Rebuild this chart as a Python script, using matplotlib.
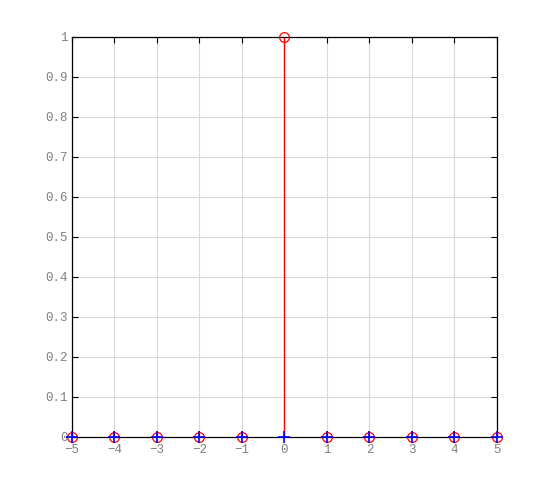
import numpy as np
import matplotlib.pyplot as plt

n = [-5, -4, -3, -2, -1, 0, 1, 2, 3, 4, 5]
x_red = [0, 0, 0, 0, 0, 1, 0, 0, 0, 0, 0]
x_blue = [0, 0, 0, 0, 0, 0, 0, 0, 0, 0, 0]
xlabels = ['\u22125', '\u22124', '\u22123', '\u22122', '\u22121', '0', '1', '2', '3', '4', '5']
ylabels = ['0', '0.1', '0.2', '0.3', '0.4', '0.5', '0.6', '0.7', '0.8', '0.9', '1']

plt.rcParams['font.family'] = ['Liberation Mono', 'DejaVu Sans Mono']

fig = plt.figure(figsize=(5.5, 4.92), dpi=100)
ax = fig.add_axes([0.1309, 0.1118, 0.7727, 0.8130])

ml, sl, bl = ax.stem(n, x_red, linefmt='r-', markerfmt='ro', basefmt=' ')
ml.set_markerfacecolor('none')
ml.set_markersize(7)
ml.set_markeredgewidth(0.9)
ml.set_clip_on(False)
ml.set_zorder(4)
sl.set_linewidth(1)
bp, = ax.plot(n, x_blue, 'b+', markersize=8, markeredgewidth=1.2, clip_on=False, zorder=5)

ax.set_xlim(-5, 5)
ax.set_ylim(0, 1)
ax.set_xticks(np.arange(-5, 6, 1))
ax.set_yticks(np.arange(0, 1.01, 0.1))
ax.set_xticklabels(xlabels)
ax.set_yticklabels(ylabels)
ax.grid(True, color='#d9d9d9', linewidth=0.8)
ax.set_axisbelow(True)
ax.tick_params(direction='in', top=True, right=True, labelsize=9, labelcolor='#808080', length=4)
ax.tick_params(axis='x', pad=5)
ax.tick_params(axis='y', pad=3)
for s in ax.spines.values():
    s.set_linewidth(0.9)
plt.savefig('out.png')
